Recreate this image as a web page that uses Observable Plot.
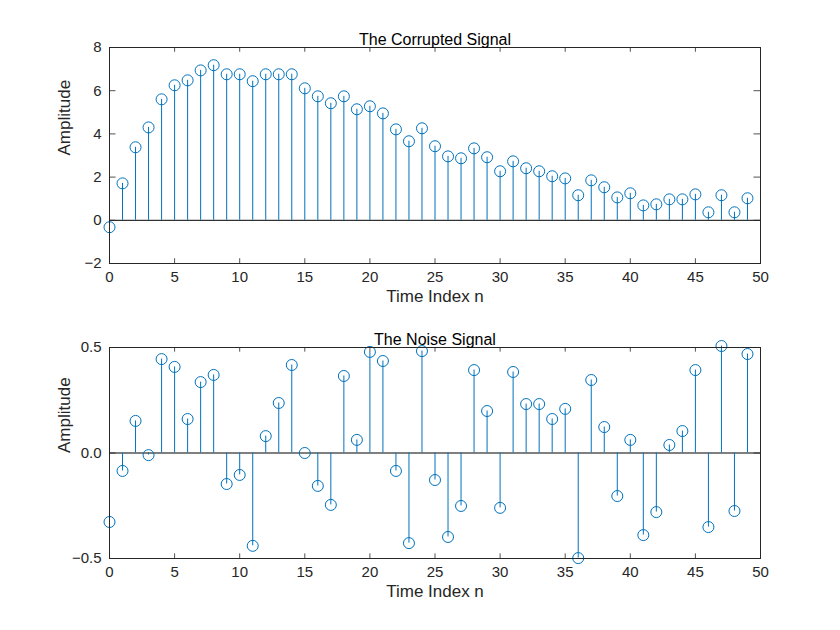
<!DOCTYPE html>
<html><head><meta charset="utf-8">
<script src="https://cdn.jsdelivr.net/npm/d3@7"></script>
<script src="https://cdn.jsdelivr.net/npm/@observablehq/plot@0.6"></script>
<style>body{margin:0;background:#fff}svg{display:block}</style>
</head><body><div id="c"></div>
<script>
const n = d3.range(50);
const corrupted = [-0.32,1.71,3.38,4.3,5.6,6.25,6.48,6.94,7.18,6.76,6.76,6.44,6.76,6.76,6.76,6.11,5.74,5.42,5.74,5.14,5.28,4.95,4.21,3.66,4.26,3.43,2.96,2.87,3.33,2.92,2.27,2.73,2.41,2.27,2.04,1.94,1.16,1.85,1.53,1.06,1.25,0.69,0.74,0.97,0.97,1.2,0.37,1.16,0.37,1.02];
const noise = [-0.327,-0.085,0.152,-0.01,0.445,0.408,0.161,0.336,0.37,-0.147,-0.104,-0.44,0.08,0.237,0.417,0,-0.156,-0.246,0.365,0.062,0.479,0.436,-0.085,-0.427,0.483,-0.128,-0.398,-0.251,0.393,0.199,-0.26,0.384,0.232,0.232,0.161,0.209,-0.498,0.346,0.123,-0.204,0.062,-0.389,-0.28,0.038,0.104,0.393,-0.351,0.507,-0.275,0.469];
const xTicks = [0,5,10,15,20,25,30,35,40,45,50];
const col = "#0072BD";
function stem(vals, title, yDomain, yTicks, mt, mb) {
  const data = n.map(i => ({n: i, v: vals[i]}));
  const span = yDomain[1] - yDomain[0], t = span * 0.022;
  return Plot.plot({
    width: 840, height: 315, marginLeft: 109, marginRight: 80, marginTop: mt, marginBottom: mb,
    style: {fontFamily: "Liberation Sans, Arial, sans-serif", fontSize: "15px", color: "#262626"},
    x: {type: "linear", domain: [0, 50], label: null},
    y: {type: "linear", domain: yDomain, label: null},
    marks: [
      Plot.ruleY([0], {stroke: "#000", strokeWidth: 1}),
      Plot.ruleX(data, {x: "n", y1: 0, y2: "v", stroke: col, strokeWidth: 1}),
      Plot.dot(data, {x: "n", y: "v", r: 5.5, stroke: col, fill: "none", strokeWidth: 1}),
      Plot.frame({stroke: "#262626"}),
      Plot.ruleX(xTicks, {x: d => d, y1: yDomain[0], y2: yDomain[0] + t, stroke: "#262626", strokeWidth: 0.8}),
      Plot.ruleX(xTicks, {x: d => d, y1: yDomain[1], y2: yDomain[1] - t, stroke: "#262626", strokeWidth: 0.8}),
      Plot.ruleY(yTicks, {y: d => d, x1: 0, x2: 0.5, stroke: "#262626", strokeWidth: 0.8}),
      Plot.ruleY(yTicks, {y: d => d, x1: 50, x2: 49.5, stroke: "#262626", strokeWidth: 0.8}),
      Plot.axisX({ticks: xTicks, tickSize: 0, tickPadding: 8, fontSize: 15}),
      Plot.axisY({ticks: yTicks, tickSize: 0, tickPadding: 8, fontSize: 15}),
      Plot.text([title], {frameAnchor: "top", dy: -14, fontSize: 16, fill: "#000"}),
      Plot.text(["Time Index n"], {frameAnchor: "bottom", dy: 38, fontSize: 17, fill: "#262626"}),
      Plot.text(["Amplitude"], {frameAnchor: "left", dx: -45, rotate: -90, fontSize: 17, fill: "#262626"})
    ]
  });
}
const c = document.getElementById("c");
c.append(stem(corrupted, "The Corrupted Signal", [-2, 8], [-2,0,2,4,6,8], 47, 52));
c.append(stem(noise, "The Noise Signal", [-0.5, 0.5], [-0.5,0,0.5], 32, 72));
</script></body></html>
